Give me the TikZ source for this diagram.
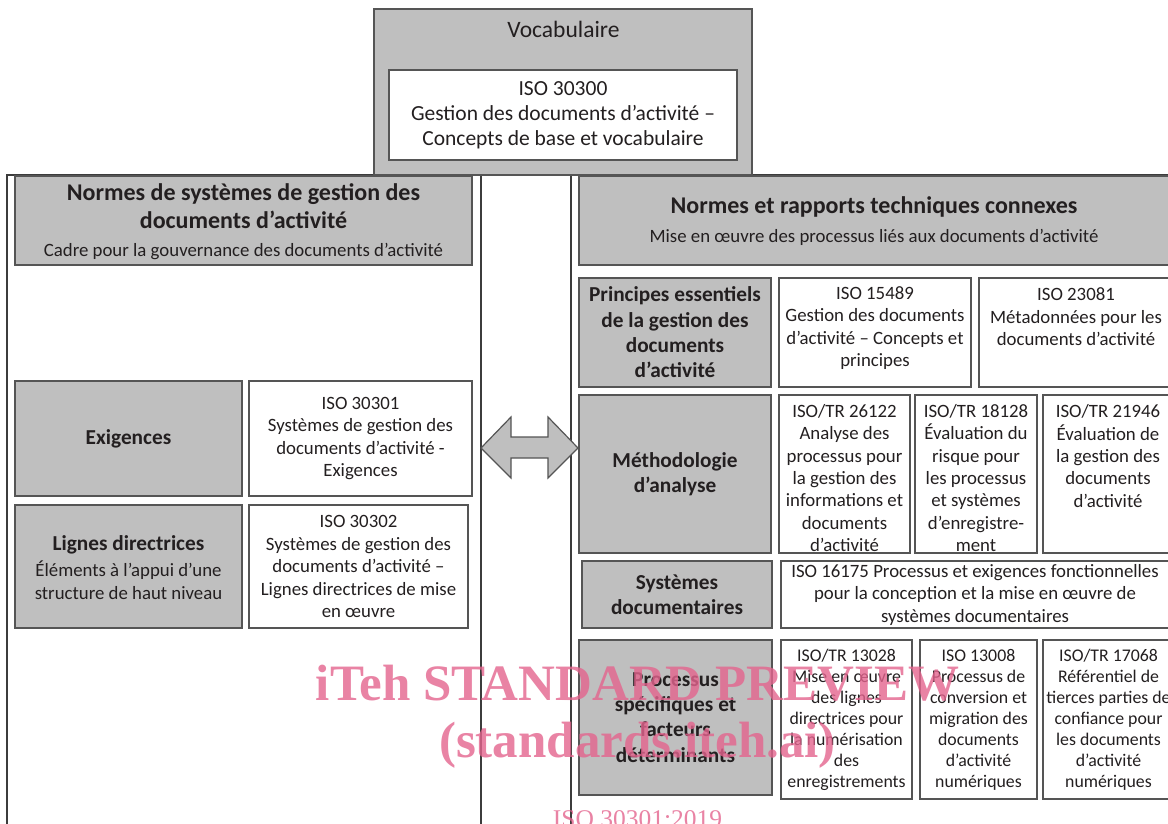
\documentclass[tikz,border=0pt]{standalone}
\usepackage{fontspec}
\setmainfont{Carlito}
\newfontfamily\wmfont{Liberation Serif}
\usetikzlibrary{calc}
\definecolor{boxgray}{RGB}{191,191,191}
\definecolor{boxline}{RGB}{85,85,85}
\definecolor{frameline}{RGB}{60,60,60}
\definecolor{wmpink}{RGB}{228,100,142}
\definecolor{ink}{RGB}{35,31,32}
\newcommand{\fsz}[2]{\fontsize{#1}{#2}\selectfont}
\begin{document}
\begin{tikzpicture}[x=1pt,y=-1pt,
  gbox/.style={draw=boxline, fill=boxgray, line width=1.2pt, inner sep=0pt, outer sep=0pt, anchor=north west},
  wbox/.style={draw=boxline, fill=white, line width=1.2pt, inner sep=0pt, outer sep=0pt, anchor=north west},
  txt/.style={inner sep=0pt, align=center, text=ink},
  body/.style={txt, font=\fsz{18.8}{22.5}},
  bodys/.style={txt, font=\fsz{17.8}{21}},
  lbl/.style={txt, font=\bfseries\fsz{21.3}{25.3}},
  head/.style={txt, font=\bfseries\fsz{24}{28}},
  frame/.style={draw=frameline, line width=1.5pt},
  wm/.style={inner sep=0pt, text=wmpink, text opacity=0.8, anchor=base}
]
\useasboundingbox (0,0) rectangle (1168,824);
\clip (0,0) rectangle (1168,824);
\fill[white] (0,0) rectangle (1168,824);

% frames
\coordinate (fl1) at (7,830);
\coordinate (fl2) at (7,175);
\coordinate (fl3) at (481,175);
\coordinate (fl4) at (481,830);
\coordinate (fr1) at (571,830);
\coordinate (fr2) at (571,175);
\coordinate (fr3) at (1175,175);
\draw[frame] (fl1) -- (fl2) -- (fl3) -- (fl4);
\draw[frame] (fr1) -- (fr2) -- (fr3);

% vocabulary
\node[gbox, minimum width=378pt, minimum height=166pt] (vocab) at (374,9) {};
\node[txt, font=\fsz{23.5}{26}] (vocabt) at (563.5,29) {Vocabulaire};
\node[wbox, minimum width=348pt, minimum height=90pt] (v300) at (389,70) {};
\node[txt, font=\fsz{21.5}{25}] (v300t) at (v300.center) {ISO 30300\\Gestion des documents d’activité –\\Concepts de base et vocabulaire};

% left side
\node[gbox, minimum width=457pt, minimum height=89pt] (lhead) at (15,176) {};
\node[head] (lheadt) at (243.5,206) {Normes de systèmes de gestion des\\documents d’activité};
\node[body] (lheads) at (243.5,251) {Cadre pour la gouvernance des documents d’activité};

\node[gbox, minimum width=227pt, minimum height=115pt] (exig) at (15,381) {};
\node[lbl] (exigt) at (exig.center) {Exigences};
\node[wbox, minimum width=223pt, minimum height=115pt] (i30301) at (249,381) {};
\node[body] (i30301t) at (i30301.center) {ISO 30301\\Systèmes de gestion des\\documents d’activité -\\Exigences};

\node[gbox, minimum width=227pt, minimum height=123pt] (lign) at (15,505) {};
\node[lbl] (lignt) at (128.5,545) {Lignes directrices};
\node[body] (ligns) at (128.5,580) {Éléments à l’appui d’une\\structure de haut niveau};
\node[wbox, minimum width=219pt, minimum height=123pt] (i30302) at (249,505) {};
\node[body] (i30302t) at (i30302.center) {ISO 30302\\Systèmes de gestion des\\documents d’activité –\\Lignes directrices de mise\\en œuvre};

% arrow
\coordinate (a1) at (481,448);
\coordinate (a2) at (511,417);
\coordinate (a3) at (511,437);
\coordinate (a4) at (548,437);
\coordinate (a5) at (548,417);
\coordinate (a6) at (578,448);
\coordinate (a7) at (548,478);
\coordinate (a8) at (548,458);
\coordinate (a9) at (511,458);
\coordinate (a10) at (511,478);
\draw[draw=boxline, fill=boxgray, line width=1.2pt, line join=miter] (a1) -- (a2) -- (a3) -- (a4) -- (a5) -- (a6) -- (a7) -- (a8) -- (a9) -- (a10) -- cycle;

% right side
\node[gbox, minimum width=590pt, minimum height=89pt] (rhead) at (579,176) {};
\node[head] (rheadt) at (874,207) {Normes et rapports techniques connexes};
\node[body] (rheads) at (874,237) {Mise en œuvre des processus liés aux documents d’activité};

\node[gbox, minimum width=192pt, minimum height=109pt] (princ) at (579,278) {};
\node[lbl] (princt) at (princ.center) {Principes essentiels\\de la gestion des\\documents\\d’activité};
\node[wbox, minimum width=192pt, minimum height=109pt] (i15489) at (779,278) {};
\node[body] (i15489t) at (875,328) {ISO 15489\\Gestion des documents\\d’activité – Concepts et\\principes};
\node[wbox, minimum width=194pt, minimum height=109pt] (i23081) at (979,278) {};
\node[body] (i23081t) at (1076,317) {ISO 23081\\Métadonnées pour les\\documents d’activité};

\node[gbox, minimum width=192pt, minimum height=158pt] (meth) at (579,395) {};
\node[lbl] (metht) at (meth.center) {Méthodologie\\d’analyse};
\node[wbox, minimum width=131pt, minimum height=158pt] (i26122) at (779,395) {};
\node[body, font=\fsz{18.8}{22.3}] (i26122t) at (844.5,478) {ISO/TR 26122\\Analyse des\\processus pour\\la gestion des\\informations et\\documents\\d’activité};
\node[wbox, minimum width=122pt, minimum height=158pt] (i18128) at (915,395) {};
\node[body, font=\fsz{18.8}{22.3}] (i18128t) at (976,478) {ISO/TR 18128\\Évaluation du\\risque pour\\les processus\\et systèmes\\d’enregistre-\\ment};
\node[wbox, minimum width=130pt, minimum height=158pt] (i21946) at (1043,395) {};
\node[body, font=\fsz{18.8}{22.3}] (i21946t) at (1108,456) {ISO/TR 21946\\Évaluation de\\la gestion des\\documents\\d’activité};

\node[gbox, minimum width=190pt, minimum height=67pt] (sysd) at (582,561) {};
\node[lbl] (sysdt) at (sysd.center) {Systèmes\\documentaires};
\node[wbox, minimum width=388pt, minimum height=67pt] (i16175) at (781,561) {};
\node[body] (i16175t) at (i16175.center) {ISO 16175 Processus et exigences fonctionnelles\\pour la conception et la mise en œuvre de\\systèmes documentaires};

\node[gbox, minimum width=193pt, minimum height=155pt] (proc) at (579,640) {};
\node[lbl] (proct) at (proc.center) {Processus\\spécifiques et\\facteurs\\déterminants};
\node[wbox, minimum width=131pt, minimum height=159pt] (i13028) at (781,640) {};
\node[bodys] (i13028t) at (i13028.center) {ISO/TR 13028\\Mise en œuvre\\des lignes\\directrices pour\\la numérisation\\des\\enregistrements};
\node[wbox, minimum width=117pt, minimum height=159pt] (i13008) at (920,640) {};
\node[bodys] (i13008t) at (i13008.center) {ISO 13008\\Processus de\\conversion et\\migration des\\documents\\d’activité\\numériques};
\node[wbox, minimum width=131pt, minimum height=159pt] (i17068) at (1043,640) {};
\node[bodys] (i17068t) at (1108.5,720) {ISO/TR 17068\\Référentiel de\\tierces parties de\\confiance pour\\les documents\\d’activité\\numériques};

% watermark
\node[wm, font=\wmfont\bfseries\fontsize{51}{55}\selectfont] (wm1) at (637.5,700) {iTeh STANDARD PREVIEW};
\node[wm, font=\wmfont\bfseries\fontsize{51}{55}\selectfont] (wm2) at (637.5,757) {(standards.iteh.ai)};
\node[wm, font=\wmfont\fontsize{25.5}{28}\selectfont] (wm3) at (637.5,827) {ISO 30301:2019};
\end{tikzpicture}
\end{document}
